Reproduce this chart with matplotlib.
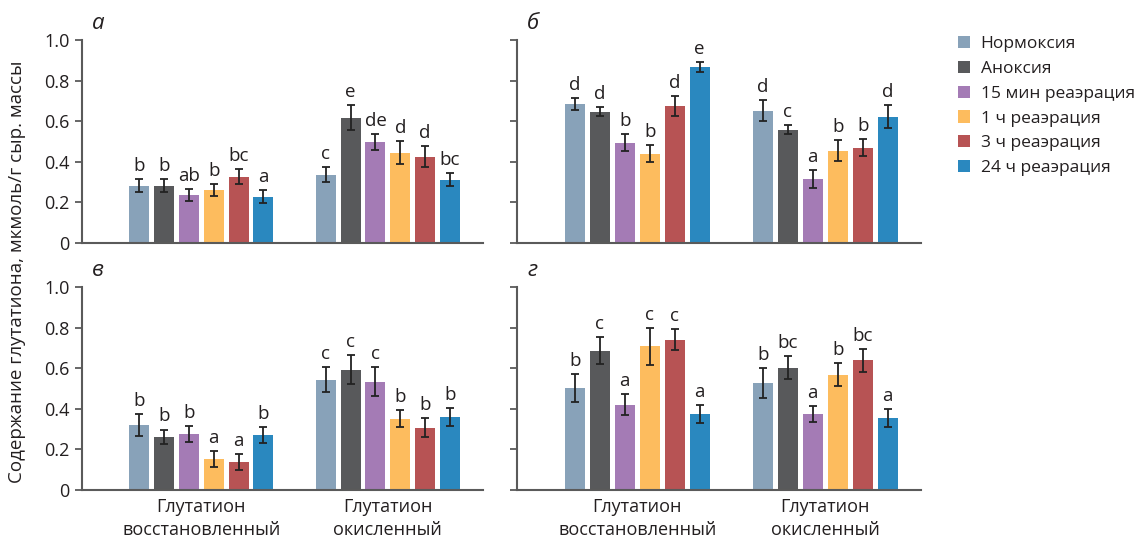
import numpy as np
import matplotlib.pyplot as plt
from matplotlib.patches import Patch

plt.rcParams['font.family'] = ['Open Sans', 'DejaVu Sans']

# Данные: группы и условия
groups = ['Глутатион\nвосстановленный', 'Глутатион\nокисленный']
conditions = ['Нормоксия', 'Аноксия', '15 мин реаэрация',
              '1 ч реаэрация', '3 ч реаэрация', '24 ч реаэрация']
colors = ['#88a2b9', '#58595b', '#a47bb5', '#fdbc5e', '#b75354', '#2a88bf']

# панель а
a_vals = [[0.282, 0.282, 0.238, 0.262, 0.327, 0.228],
          [0.336, 0.617, 0.499, 0.445, 0.425, 0.312]]
a_err = [[0.033, 0.033, 0.030, 0.030, 0.038, 0.031],
         [0.037, 0.062, 0.039, 0.058, 0.051, 0.032]]
a_let = [['b', 'b', 'ab', 'b', 'bc', 'a'],
         ['c', 'e', 'de', 'd', 'd', 'bc']]

# панель б
b_vals = [[0.686, 0.647, 0.494, 0.440, 0.676, 0.868],
          [0.652, 0.558, 0.317, 0.455, 0.470, 0.622]]
b_err = [[0.030, 0.023, 0.042, 0.043, 0.048, 0.025],
         [0.053, 0.022, 0.044, 0.051, 0.042, 0.057]]
b_let = [['d', 'd', 'b', 'b', 'd', 'e'],
         ['d', 'c', 'a', 'b', 'b', 'd']]

# панель в
v_vals = [[0.321, 0.262, 0.277, 0.153, 0.138, 0.272],
          [0.543, 0.593, 0.533, 0.351, 0.306, 0.361]]
v_err = [[0.054, 0.036, 0.040, 0.040, 0.039, 0.040],
         [0.061, 0.071, 0.072, 0.042, 0.047, 0.044]]
v_let = [['b', 'b', 'b', 'a', 'a', 'b'],
         ['c', 'c', 'c', 'b', 'b', 'b']]

# панель г
g_vals = [[0.504, 0.687, 0.420, 0.707, 0.741, 0.375],
          [0.529, 0.603, 0.375, 0.568, 0.638, 0.354]]
g_err = [[0.069, 0.068, 0.051, 0.089, 0.051, 0.045],
         [0.074, 0.057, 0.040, 0.058, 0.056, 0.044]]
g_let = [['b', 'c', 'a', 'c', 'c', 'a'],
         ['b', 'bc', 'a', 'b', 'bc', 'a']]

panels = [('а', a_vals, a_err, a_let), ('б', b_vals, b_err, b_let),
          ('в', v_vals, v_err, v_let), ('г', g_vals, g_err, g_let)]

W, H = 1140, 540
fig = plt.figure(figsize=(W / 100, H / 100), dpi=100)

# положение осей в пикселях: x0, y_top, x1, y_bottom
boxes = [(82, 40, 483, 243), (517, 40, 921, 243),
         (82, 287, 483, 490), (517, 287, 921, 490)]

step = 0.133
width = 0.107
offsets = (np.arange(6) - 2.5) * step

for i, (name, vals, errs, lets) in enumerate(panels):
    x0, yt, x1, yb = boxes[i]
    ax = fig.add_axes([x0 / W, 1 - yb / H, (x1 - x0) / W, (yb - yt) / H])
    for g in range(2):
        for c in range(6):
            x = g + offsets[c]
            ax.bar(x, vals[g][c], width=width, color=colors[c], zorder=2)
            ax.errorbar(x, vals[g][c], yerr=errs[g][c], fmt='none',
                        ecolor='#222222', elinewidth=1.3, capsize=3,
                        capthick=1.3, zorder=3)
            ax.text(x, vals[g][c] + errs[g][c] + 0.02, lets[g][c],
                    ha='center', va='bottom', fontsize=13.5, color='#231f20')
    ax.set_xlim(-0.64, 1.51)
    ax.set_ylim(0, 1.0)
    ax.set_yticks([0, 0.2, 0.4, 0.6, 0.8, 1.0])
    for s in ['top', 'right']:
        ax.spines[s].set_visible(False)
    for s in ['left', 'bottom']:
        ax.spines[s].set_color('#5a5a5a')
        ax.spines[s].set_linewidth(1.5)
    ax.tick_params(axis='y', length=5, width=1.3, color='#5a5a5a',
                   labelsize=13, labelcolor='#231f20', pad=4)
    if i % 2 == 0:
        ax.set_yticklabels(['0', '0.2', '0.4', '0.6', '0.8', '1.0'])
    else:
        ax.set_yticklabels([])
    ax.set_xticks([0, 1])
    if i >= 2:
        ax.set_xticklabels(groups, fontsize=13, color='#231f20',
                           linespacing=1.3)
    else:
        ax.set_xticklabels([])
    ax.tick_params(axis='x', length=0, pad=6)
    ax.text(0.025, 1.03, name, transform=ax.transAxes, fontsize=16,
            style='italic', ha='left', va='bottom', color='#231f20')

fig.text(17 / W, 1 - 272 / H,
         'Содержание глутатиона, мкмоль/г сыр. массы',
         rotation=90, ha='center', va='center', fontsize=13.5,
         color='#231f20')

handles = [Patch(facecolor=c, edgecolor='none') for c in colors]
fig.legend(handles, conditions, loc='upper left',
           bbox_to_anchor=(951 / W, 1 - 29 / H), borderaxespad=0,
           frameon=False, fontsize=12.5, handlelength=0.7,
           handleheight=0.7, handletextpad=0.6, labelspacing=0.5,
           labelcolor='#231f20')

fig.savefig('out.png', dpi=100)
